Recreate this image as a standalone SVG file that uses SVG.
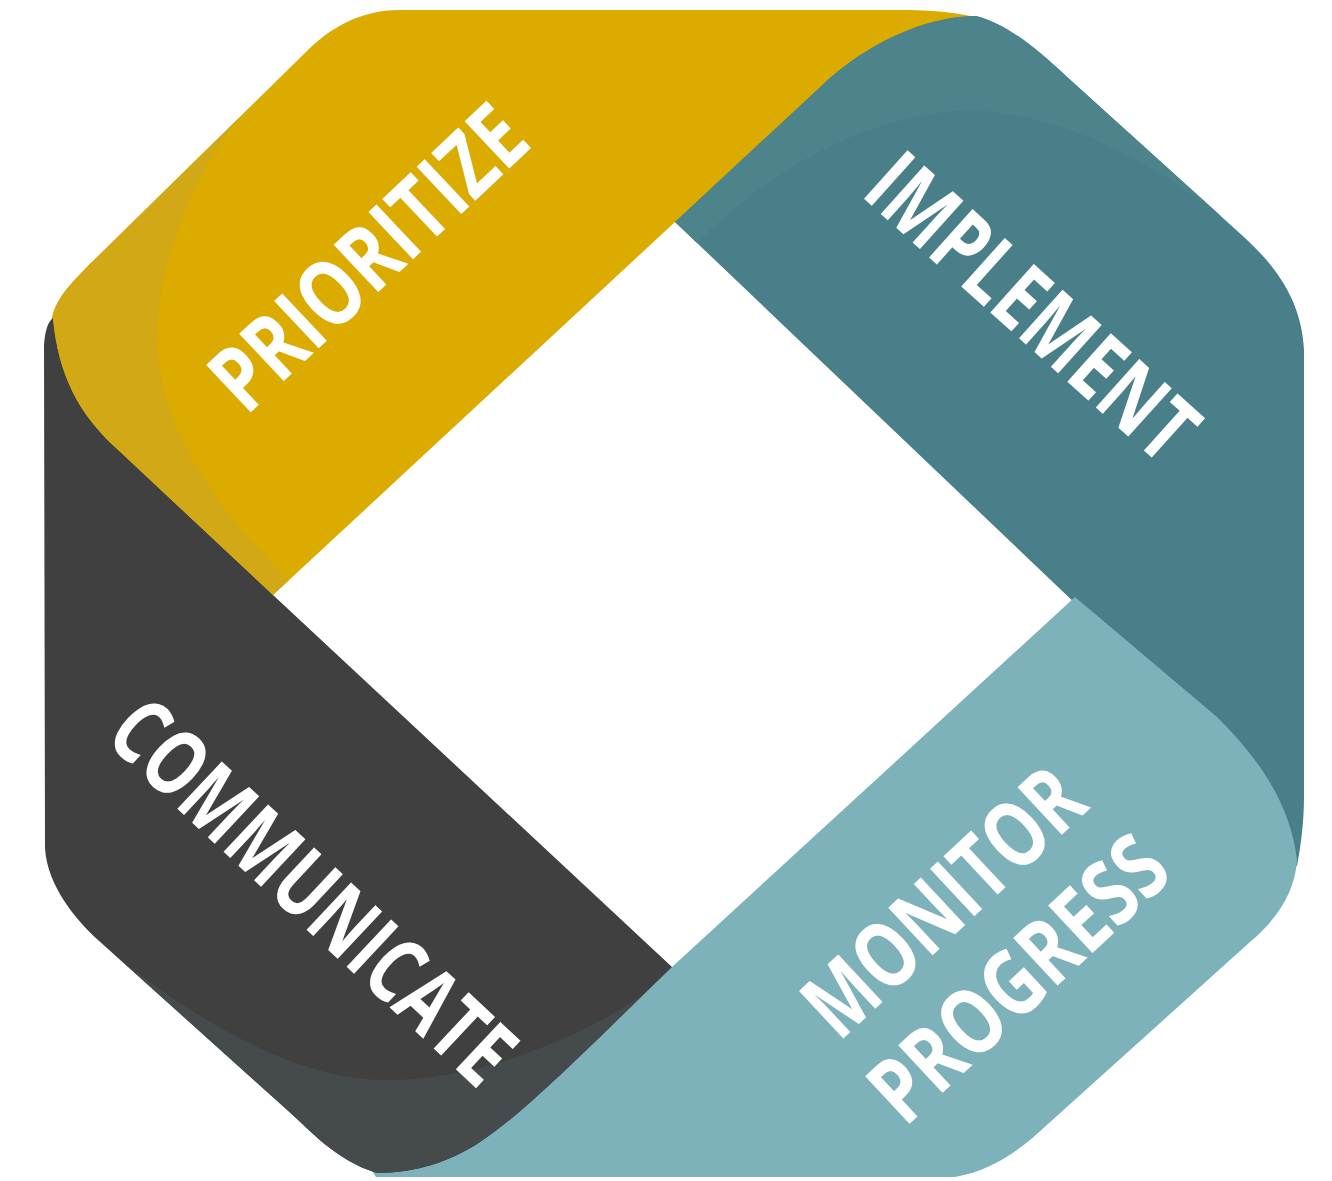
<svg xmlns="http://www.w3.org/2000/svg" width="1332" height="1181" viewBox="0 0 1332 1181">
<style>
.lbl{font-family:"Open Sans","Noto Sans","Liberation Sans",sans-serif;font-weight:700;font-size:91px;fill:#ffffff;text-anchor:middle}
.yel{fill:#DBAB00}.yel2{fill:#D2A816}
.tea{fill:#487F88}.tea2{fill:#4D848C}
.lte{fill:#7DB2BA}
.drk{fill:#404040}.drk2{fill:#454A4D}
</style>
<rect width="1332" height="1181" fill="#ffffff"/>
<g id="prioritize">
<path class="yel" d="M273,595 L675,222 L692,232 L845,88 C892,44 935,24 985,20 C960,12 930,10 900,10 L400,10 C360,10 330,28 306,52 L92,262 C70,284 55,300 52,318 L48,345 L60,445 L268,603 Z"/>
</g>
<g id="implement">
<path class="tea" d="M675,222 L1078,606 L1220,735 L1280,860 L1297,866 C1300,850 1304,825 1304,797 L1304,350 C1302,305 1280,270 1245,238 L1066,76 C1040,52 1010,25 976,16 C935,16 880,35 830,78 Z"/>
</g>
<g id="monitor-progress">
<path class="lte" d="M1075,597 L1217,717 C1255,755 1290,800 1297,860 C1295,892 1278,918 1250,942 L1048,1124 C1022,1148 995,1170 955,1177 L376,1177 L372,1171 L450,1140 L560,1060 L650,975 L672,967 Z"/>
</g>
<g id="communicate">
<path class="drk" d="M273,595 L672,967 L640,998 L600,1037 C560,1075 520,1115 480,1142 C450,1162 415,1173 377,1173 C335,1160 310,1130 285,1108 L98,940 C75,919 47,885 45,848 L44,345 C45,330 48,322 53,318 C58,375 80,415 115,447 Z"/>
</g>
<g id="shading">
<path class="yel2" d="M240,117 C200,165 160,250 157,333 C155,420 215,510 289,580 L273,595 L115,447 C80,415 58,375 53,318 C55,300 70,284 92,262 Z"/>
<path class="tea2" d="M697,243 C760,180 850,118 966,110 C1060,112 1150,160 1222,217 L1066,76 C1040,52 1010,25 976,16 C935,16 880,35 830,78 L675,222 Z"/>
<path class="drk2" d="M645,993 C580,1040 470,1082 382,1080 C280,1078 170,1000 115,955 L285,1108 C310,1130 335,1160 377,1173 C415,1173 450,1162 480,1142 C520,1115 560,1075 600,1037 Z"/>
</g>
<g id="labels">
<text class="lbl" transform="translate(390,281) rotate(-43.3)" textLength="396" lengthAdjust="spacingAndGlyphs">PRIORITIZE</text>
<text class="lbl" transform="translate(1011,331) rotate(42)" textLength="408" lengthAdjust="spacingAndGlyphs">IMPLEMENT</text>
<text class="lbl" transform="translate(291,915) rotate(43.1)" textLength="515" lengthAdjust="spacingAndGlyphs">COMMUNICATE</text>
<text class="lbl" transform="translate(965,925) rotate(-43)" textLength="345" lengthAdjust="spacingAndGlyphs">MONITOR</text>
<text class="lbl" transform="translate(1040,1002) rotate(-43)" textLength="370" lengthAdjust="spacingAndGlyphs">PROGRESS</text>
</g>
</svg>
